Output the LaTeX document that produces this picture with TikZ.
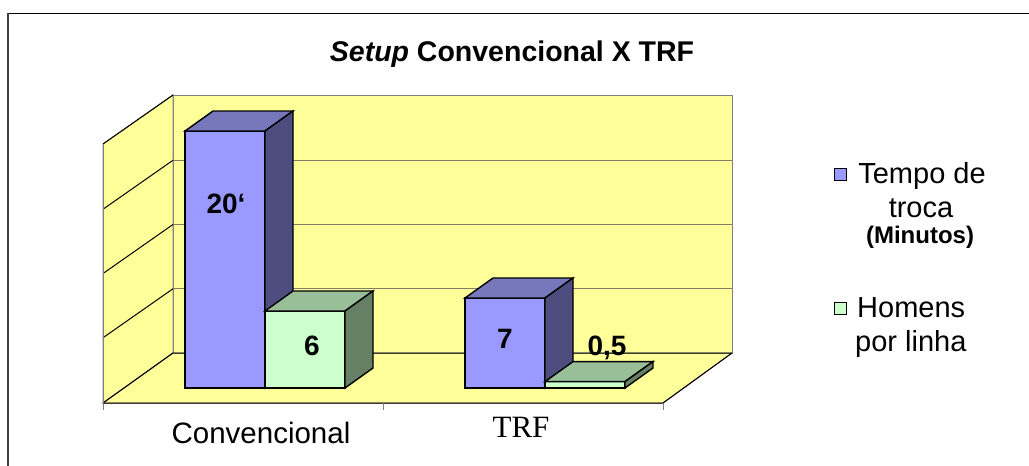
\documentclass[tikz,border=0pt]{standalone}
\usepackage{fontspec}
\setmainfont{Liberation Sans}
\newfontfamily\timesfont{Liberation Serif}
\usepackage{xcolor}
\usepackage{tikz}
\definecolor{wallyellow}{HTML}{FFFF99}
\definecolor{barblue}{HTML}{9999FF}
\definecolor{barbluetop}{HTML}{7777BB}
\definecolor{barblueside}{HTML}{4D4D80}
\definecolor{bargreen}{HTML}{CCFFCC}
\definecolor{bargreentop}{HTML}{99BF99}
\definecolor{bargreenside}{HTML}{668066}
\definecolor{gridolive}{HTML}{808066}
\tikzstyle{wall} = [fill=wallyellow, draw=gray, line width=1pt]
\tikzstyle{gridline} = [draw=gridolive, line width=1pt]
\tikzstyle{axisline} = [draw=black, line width=1pt]
\tikzstyle{tickline} = [draw=gray, line width=1pt]
\tikzstyle{barface} = [draw=black, line width=1.4pt, line join=miter]
\tikzstyle{vallabel} = [anchor=base, inner sep=0pt, font=\fontsize{28}{32}\selectfont\bfseries]
\tikzstyle{legtext} = [anchor=base, inner sep=0pt, font=\fontsize{29}{33}\selectfont]
\tikzstyle{legkey} = [draw=black, line width=1pt, minimum size=12pt, inner sep=0pt]

\begin{document}
\begin{tikzpicture}[x=1pt, y=-1pt]
\useasboundingbox (0,0) rectangle (1029,466);

% Cadre
\draw[black, line width=1pt] (8,13) -- (1029,13);
\draw[black!75, line width=2pt] (8,13) -- (8,466);

% Titre
\node (title) [anchor=base, inner sep=0pt, font=\fontsize{28.5}{32}\selectfont\bfseries] at (512,61) {\textit{Setup} Convencional X TRF};

% Parois
\draw[wall] (173,95) rectangle (732,353);
\draw[wall] (103,144) -- (173,95) -- (173,353) -- (103,403) -- cycle;
\draw[wall] (103,403) -- (173,353) -- (732,353) -- (663,403) -- cycle;
\foreach \y in {160.25,224.5,288.75} {
  \draw[gridline] (173,\y) -- (732,\y);
  \draw[axisline] (103,\y+49) -- (173,\y);
}
\draw[axisline] (103,144) -- (173,95);
\draw[axisline] (103,403) -- (173,353) -- (732,353);
\draw[axisline] (103,403) -- (663,403) -- (732,353);
\draw[tickline] (103,144) -- (103,410);
\draw[tickline] (383,403) -- (383,410);
\draw[tickline] (663,403) -- (663,410);

% Convencional
\draw[barface, fill=barblue] (185,388) rectangle (265,131);
\draw[barface, fill=barbluetop] (185,131) -- (213,111) -- (293,111) -- (265,131) -- cycle;
\draw[barface, fill=barblueside] (265,388) -- (293,368) -- (293,111) -- (265,131) -- cycle;
\draw[barface, fill=bargreen] (265,388) rectangle (345,311);
\draw[barface, fill=bargreentop] (265,311) -- (293,291) -- (373,291) -- (345,311) -- cycle;
\draw[barface, fill=bargreenside] (345,388) -- (373,368) -- (373,291) -- (345,311) -- cycle;

% TRF
\draw[barface, fill=barblue] (465,388) rectangle (545,298);
\draw[barface, fill=barbluetop] (465,298) -- (493,278) -- (573,278) -- (545,298) -- cycle;
\draw[barface, fill=barblueside] (545,388) -- (573,368) -- (573,278) -- (545,298) -- cycle;
\draw[barface, fill=bargreen] (545,388) rectangle (625,381.6);
\draw[barface, fill=bargreentop] (545,381.6) -- (573,361.6) -- (653,361.6) -- (625,381.6) -- cycle;
\draw[barface, fill=bargreenside] (625,388) -- (653,368) -- (653,361.6) -- (625,381.6) -- cycle;

% Valeurs
\node (val20) [vallabel] at (226,213) {20\char96};
\node (val6) [vallabel] at (312,355) {6};
\node (val7) [vallabel] at (505,348) {7};
\node (val05) [vallabel] at (607,355) {0,5};

% Categories
\node (catconv) [legtext, font=\fontsize{29.5}{33}\selectfont] at (261,443) {Convencional};
\node (cattrf) [anchor=base, inner sep=0pt, font=\fontsize{31}{34}\selectfont\timesfont] at (521,437) {TRF};

% Legende
\node (keytempo) [legkey, fill=barblue] at (840,174) {};
\node (keyhomens) [legkey, fill=bargreen] at (840,308) {};
\node (legtempo) [legtext] at (922,183) {Tempo de};
\node (legtroca) [legtext] at (921,217) {troca};
\node (legmin) [anchor=base, inner sep=0pt, font=\fontsize{24}{28}\selectfont\bfseries] at (920,243) {(Minutos)};
\node (leghomens) [legtext, anchor=base west] at (857,317) {Homens};
\node (leglinha) [legtext, anchor=base west] at (855,351) {por linha};

\end{tikzpicture}
\end{document}
